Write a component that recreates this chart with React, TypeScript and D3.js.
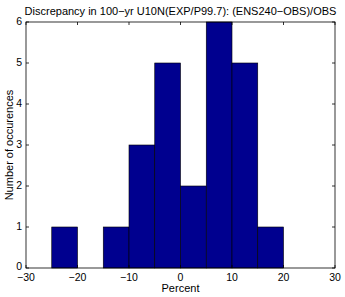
import { useEffect, useRef } from "react";
import * as d3 from "d3";

const binStarts = [-25, -20, -15, -10, -5, 0, 5, 10, 15];
const counts = [1, 0, 1, 3, 5, 2, 6, 5, 1];
const binWidth = 5;
const xTicks = [-30, -20, -10, 0, 10, 20, 30];
const yTicks = [0, 1, 2, 3, 4, 5, 6];

export default function App() {
  const svgRef = useRef<SVGSVGElement>(null);

  useEffect(() => {
    if (!svgRef.current) return;
    const root = d3.select(svgRef.current);
    root.selectAll("*").remove();

    const margin = { top: 22, right: 10, bottom: 29, left: 26 };
    const width = 345 - margin.left - margin.right;
    const height = 297 - margin.top - margin.bottom;
    const font = "Liberation Sans, Arial, Helvetica, sans-serif";

    const x = d3.scaleLinear().domain([-30, 30]).range([0, width]);
    const y = d3.scaleLinear().domain([0, 6]).range([height, 0]);

    root.append("rect").attr("width", 345).attr("height", 297).attr("fill", "#fff");

    const g = root.append("g").attr("transform", `translate(${margin.left},${margin.top})`);

    g.selectAll("rect.bar")
      .data(binStarts.map((s, i) => ({ s, c: counts[i] })).filter((d) => d.c > 0))
      .enter()
      .append("rect")
      .attr("class", "bar")
      .attr("x", (d) => x(d.s))
      .attr("y", (d) => y(d.c))
      .attr("width", (d) => x(d.s + binWidth) - x(d.s))
      .attr("height", (d) => height - y(d.c))
      .attr("fill", "#00008f")
      .attr("stroke", "#000")
      .attr("stroke-width", 0.6);

    // box
    g.append("rect")
      .attr("width", width)
      .attr("height", height)
      .attr("fill", "none")
      .attr("stroke", "#000")
      .attr("stroke-width", 0.8);

    const tl = 3;
    xTicks.forEach((t) => {
      g.append("line").attr("x1", x(t)).attr("x2", x(t)).attr("y1", height).attr("y2", height - tl).attr("stroke", "#000").attr("stroke-width", 0.8);
      g.append("line").attr("x1", x(t)).attr("x2", x(t)).attr("y1", 0).attr("y2", tl).attr("stroke", "#000").attr("stroke-width", 0.8);
      g.append("text")
        .attr("x", x(t))
        .attr("y", height + 13)
        .attr("text-anchor", "middle")
        .attr("font-family", font)
        .attr("font-size", 10.5)
        .text(t < 0 ? `\u2212${-t}` : `${t}`);
    });
    yTicks.forEach((t) => {
      g.append("line").attr("x1", 0).attr("x2", tl).attr("y1", y(t)).attr("y2", y(t)).attr("stroke", "#000").attr("stroke-width", 0.8);
      g.append("line").attr("x1", width).attr("x2", width - tl).attr("y1", y(t)).attr("y2", y(t)).attr("stroke", "#000").attr("stroke-width", 0.8);
      g.append("text")
        .attr("x", -4)
        .attr("y", y(t) + (t === 0 ? 1.5 : 3))
        .attr("text-anchor", "end")
        .attr("font-family", font)
        .attr("font-size", 10.5)
        .text(`${t}`);
    });

    g.append("text")
      .attr("x", width / 2)
      .attr("y", height + 23.5)
      .attr("text-anchor", "middle")
      .attr("font-family", font)
      .attr("font-size", 11)
      .text("Percent");

    g.append("text")
      .attr("transform", `translate(-13,${height / 2}) rotate(-90)`)
      .attr("text-anchor", "middle")
      .attr("font-family", font)
      .attr("font-size", 11)
      .text("Number of occurences");

    g.append("text")
      .attr("x", width / 2)
      .attr("y", -7.5)
      .attr("text-anchor", "middle")
      .attr("font-family", font)
      .attr("font-size", 11)
      .text("Discrepancy in 100\u2212yr U10N(EXP/P99.7): (ENS240\u2212OBS)/OBS");
  }, []);

  return (
    <svg
      ref={svgRef}
      width={345}
      height={297}
      style={{ position: "absolute", left: 0, top: 0, display: "block" }}
    />
  );
}
